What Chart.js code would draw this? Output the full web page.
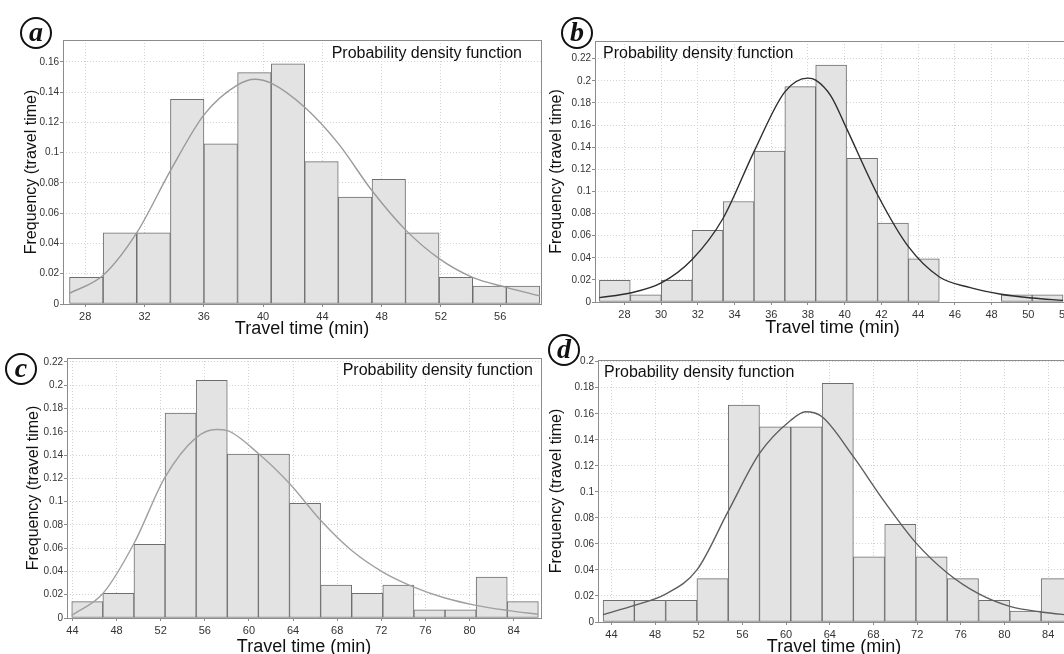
<!DOCTYPE html>
<html>
<head>
<meta charset="utf-8">
<script src="https://cdn.jsdelivr.net/npm/chart.js@4.4.0/dist/chart.umd.min.js"></script>
<style>
html,body{margin:0;padding:0;background:#fff;}
body{width:1064px;height:654px;overflow:hidden;position:relative;font-family:"Liberation Sans",Arial,sans-serif;}
canvas{position:absolute;}
.tag{position:absolute;width:28px;height:28px;border:2px solid #111;border-radius:50%;background:#fff;
  font:italic bold 28px "Liberation Serif","Times New Roman",serif;line-height:25px;text-align:center;color:#111;z-index:2;}
</style>
</head>
<body>
<canvas id="ca" width="545" height="320" style="left:0;top:20px"></canvas>
<canvas id="cb" width="535" height="320" style="left:545px;top:20px"></canvas>
<canvas id="cc" width="545" height="320" style="left:0;top:340px"></canvas>
<canvas id="cd" width="535" height="320" style="left:545px;top:340px"></canvas>
<div class="tag" style="left:20px;top:17px">a</div>
<div class="tag" style="left:561px;top:17px">b</div>
<div class="tag" style="left:5px;top:353px">c</div>
<div class="tag" style="left:548px;top:334px">d</div>
<script>
// (a) relative frequency per bin + fitted density curve
const aBins = [28.07, 30.34, 32.61, 34.88, 37.14, 39.41, 41.68, 43.94, 46.21, 48.48, 50.74, 53.01, 55.28, 57.54];
const aFreq = [0.0176, 0.0471, 0.0471, 0.1353, 0.1059, 0.1529, 0.1588, 0.0941, 0.0706, 0.0824, 0.0471, 0.0176, 0.0118, 0.0118];
const aPdfX = [26.94, 29.21, 31.47, 33.74, 36.01, 38.28, 39.45, 40.54, 42.81, 45.08, 47.34, 49.61, 51.88, 54.14, 56.41, 58.68];
const aPdfY = [0.007, 0.019, 0.047, 0.088, 0.125, 0.1448, 0.1486, 0.146, 0.130, 0.106, 0.075, 0.049, 0.030, 0.0176, 0.011, 0.0053];
const aTicksX = [28, 32, 36, 40, 44, 48, 52, 56];
const aTicksY = [0, 0.02, 0.04, 0.06, 0.08, 0.1, 0.12, 0.14, 0.16];

// (b)
const bBins = [27.48, 29.17, 30.85, 32.53, 34.22, 35.90, 37.58, 39.26, 40.95, 42.63, 44.31, 46.00, 47.68, 49.37, 51.05];
const bFreq = [0.0195, 0.0065, 0.0195, 0.0649, 0.0909, 0.1364, 0.1948, 0.2143, 0.1299, 0.0714, 0.0390, 0, 0, 0.0065, 0.0065];
const bPdfX = [26.64, 28.32, 30.01, 31.69, 33.37, 35.06, 36.74, 38.0, 38.42, 39.26, 40.10, 41.79, 43.47, 45.16, 46.84, 48.52, 50.21, 51.89];
const bPdfY = [0.004, 0.0081, 0.0172, 0.0384, 0.0755, 0.136, 0.190, 0.2024, 0.2006, 0.186, 0.157, 0.097, 0.050, 0.0226, 0.013, 0.007, 0.0036, 0.0015];
const bTicksX = [28, 30, 32, 34, 36, 38, 40, 42, 44, 46, 48, 50, 52];
const bTicksY = [0, 0.02, 0.04, 0.06, 0.08, 0.1, 0.12, 0.14, 0.16, 0.18, 0.2, 0.22];

// (c)
const cBins = [45.35, 48.17, 50.99, 53.81, 56.63, 59.45, 62.27, 65.09, 67.91, 70.73, 73.55, 76.37, 79.19, 82.01, 84.83];
const cFreq = [0.0141, 0.0211, 0.0634, 0.1761, 0.2042, 0.1408, 0.1408, 0.0986, 0.0282, 0.0211, 0.0282, 0.0070, 0.0070, 0.0352, 0.0141];
const cPdfX = [43.94, 46.76, 49.58, 52.40, 55.22, 57.05, 58.04, 60.86, 63.68, 66.50, 69.32, 72.14, 74.96, 77.78, 80.60, 83.42, 86.24];
const cPdfY = [0.0023, 0.021, 0.064, 0.121, 0.155, 0.162, 0.161, 0.1413, 0.1155, 0.084, 0.058, 0.0395, 0.0266, 0.0172, 0.0109, 0.0066, 0.0032];
const cTicksX = [44, 48, 52, 56, 60, 64, 68, 72, 76, 80, 84];
const cTicksY = [0, 0.02, 0.04, 0.06, 0.08, 0.1, 0.12, 0.14, 0.16, 0.18, 0.2, 0.22];

// (d)
const dBins = [44.67, 47.53, 50.40, 53.26, 56.13, 58.99, 61.86, 64.73, 67.59, 70.46, 73.32, 76.19, 79.06, 81.92, 84.79];
const dFreq = [0.0167, 0.0167, 0.0167, 0.0333, 0.1667, 0.15, 0.15, 0.1833, 0.05, 0.075, 0.05, 0.0333, 0.0167, 0.0083, 0.0333];
const dPdfX = [43.23, 46.10, 48.96, 51.83, 54.69, 57.56, 60.43, 61.8, 63.29, 66.16, 69.02, 71.89, 74.76, 77.62, 80.49, 83.35, 86.22];
const dPdfY = [0.0057, 0.0128, 0.0215, 0.040, 0.085, 0.1295, 0.155, 0.1615, 0.1577, 0.127, 0.0923, 0.0608, 0.0377, 0.0218, 0.012, 0.0077, 0.005];
const dTicksX = [44, 48, 52, 56, 60, 64, 68, 72, 76, 80, 84];
const dTicksY = [0, 0.02, 0.04, 0.06, 0.08, 0.1, 0.12, 0.14, 0.16, 0.18, 0.2];

const FONT = '"Liberation Sans", Arial, sans-serif';
const PDF_LABEL = "Probability density function";

// frame round the plot + the "Probability density function" caption
const framePlugin = {
  id: "frame",
  afterDraw(chart, args, o){
    const { ctx, chartArea: a } = chart;
    ctx.save();
    ctx.strokeStyle = "#8c8c8c"; ctx.lineWidth = 1;
    ctx.strokeRect(Math.round(a.left) + 0.5, Math.round(a.top) + 0.5, Math.round(a.right - a.left), Math.round(a.bottom - a.top));
    ctx.font = "16px " + FONT; ctx.fillStyle = "#111";
    ctx.textAlign = o.align; ctx.textBaseline = "middle";
    ctx.fillText(PDF_LABEL, o.align === "left" ? a.left + o.dx : a.right - o.dx, a.top + o.dy);
    ctx.restore();
  }
};

function panel(id, p){
  const bars = p.bins.map((x, i) => ({ x, y: p.freq[i] }));
  const pdf = p.pdfX.map((x, i) => ({ x, y: p.pdfY[i] }));
  const grid = { color: "#d2d2d2", lineWidth: 1, tickLength: 3, tickColor: "#8c8c8c", drawOnChartArea: true };
  return new Chart(document.getElementById(id), {
    type: "bar",
    data: { datasets: [
      { type: "line", data: pdf, borderColor: p.curve, borderWidth: 1.4, pointRadius: 0,
        cubicInterpolationMode: "monotone", fill: false, order: 0 },
      { type: "bar", data: bars, backgroundColor: "#e3e3e3", borderColor: "#6e6e6e", borderWidth: 1,
        borderSkipped: false, barPercentage: 1, categoryPercentage: 1, order: 1 }
    ]},
    options: {
      responsive: false, animation: false, events: [],
      layout: { padding: { top: p.padTop, right: p.padRight, left: 0, bottom: 0 } },
      plugins: { legend: { display: false }, tooltip: { enabled: false }, frame: p.cap },
      scales: {
        x: {
          type: "linear", offset: false, min: p.xMin, max: p.xMax,
          afterFit: s => { s.height = p.xh; },
          afterBuildTicks: s => { s.ticks = p.ticksX.map(v => ({ value: v })); },
          ticks: { autoSkip: false, maxRotation: 0, padding: 3, color: "#333", font: { size: 11, family: FONT },
                   callback: v => String(v) },
          grid: Object.assign({ offset: false }, grid),
          border: { display: false, dash: [1, 2] },
          title: { display: true, text: "Travel time (min)", color: "#111", font: { size: 18, family: FONT },
                   padding: { top: 0, bottom: p.xtPad } }
        },
        y: {
          min: 0, max: p.yMax,
          afterFit: s => { s.width = p.yw; },
          afterBuildTicks: s => { s.ticks = p.ticksY.map(v => ({ value: v })); },
          ticks: { autoSkip: false, padding: 1, color: "#333", font: { size: 10, family: FONT },
                   callback: v => String(v) },
          grid: grid,
          border: { display: false, dash: [1, 2] },
          title: { display: true, text: "Frequency (travel time)", color: "#111", font: { size: 16, family: FONT },
                   padding: { top: p.ytPad, bottom: 0 } }
        }
      }
    },
    plugins: [framePlugin]
  });
}

panel("ca", { bins: aBins, freq: aFreq, pdfX: aPdfX, pdfY: aPdfY, ticksX: aTicksX, ticksY: aTicksY,
  curve: "#9a9a9a", xMin: 26.5, xMax: 58.75, yMax: 0.1745,
  padTop: 20, padRight: 4, yw: 63, xh: 36, ytPad: 22, xtPad: 0.2,
  cap: { align: "right", dx: 19, dy: 14 } });

panel("cb", { bins: bBins, freq: bFreq, pdfX: bPdfX, pdfY: bPdfY, ticksX: bTicksX, ticksY: bTicksY,
  curve: "#2e2e2e", xMin: 26.4, xMax: 52.27, yMax: 0.236,
  padTop: 21, padRight: 10, yw: 50, xh: 38, ytPad: 2.4, xtPad: 1.2,
  cap: { align: "left", dx: 8, dy: 13 } });

panel("cc", { bins: cBins, freq: cFreq, pdfX: cPdfX, pdfY: cPdfY, ticksX: cTicksX, ticksY: cTicksY,
  curve: "#a0a0a0", xMin: 43.51, xMax: 86.48, yMax: 0.2234,
  padTop: 18, padRight: 4, yw: 67, xh: 42, ytPad: 24, xtPad: 2.2,
  cap: { align: "right", dx: 8, dy: 13 } });

panel("cd", { bins: dBins, freq: dFreq, pdfX: dPdfX, pdfY: dPdfY, ticksX: dTicksX, ticksY: dTicksY,
  curve: "#5e5e5e", xMin: 42.77, xMax: 86.0, yMax: 0.2013,
  padTop: 20, padRight: 10, yw: 53, xh: 38, ytPad: 2.4, xtPad: 2.2,
  cap: { align: "left", dx: 6, dy: 13 } });
</script>
</body>
</html>
